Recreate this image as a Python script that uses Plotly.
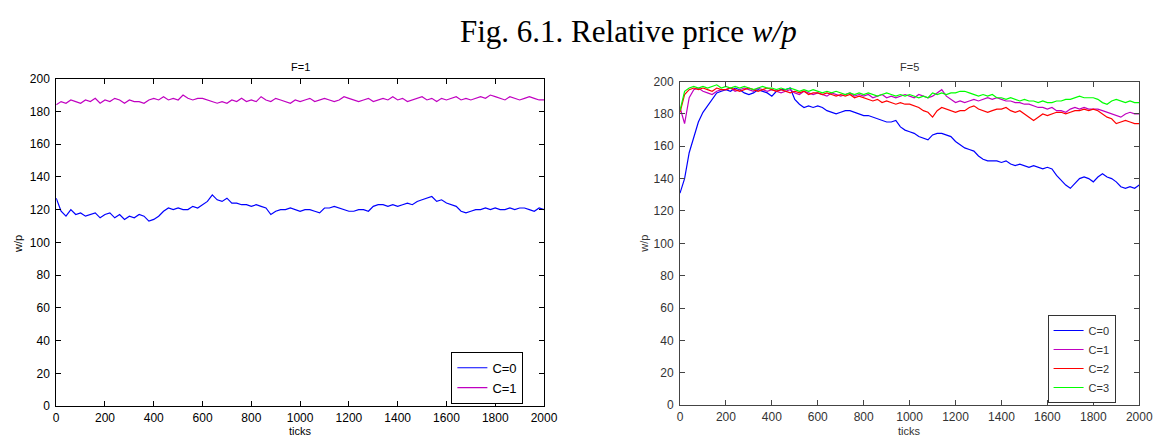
import plotly.graph_objects as go

TICK_STEP = 20
ticks = list(range(0, 2001, TICK_STEP))

# F=1 panel
f1_c0 = [127,119,116,120,117,118,116,117,118,115,
         117,118,115,117,114,116,115,117,116,113,
         114,116,119,121,120,121,120,120,122,121,
         123,125,129,126,125,127,124,124,123,123,
         122,123,122,121,117,119,120,120,121,120,
         119,120,120,119,118,121,121,122,121,120,
         119,119,120,120,119,122,123,123,122,123,
         122,123,124,123,125,126,127,128,125,126,
         124,123,122,119,118,119,120,120,121,120,
         121,120,120,121,120,121,121,120,119,121,
         120]
f1_c1 = [184,186,185,187,186,185,187,186,188,185,
         187,186,188,187,185,187,186,186,185,187,
         188,187,189,187,188,187,190,188,187,188,
         188,187,186,185,186,185,187,186,188,186,
         187,186,189,187,186,188,187,186,185,187,
         186,187,188,186,187,188,187,186,187,189,
         188,187,186,187,188,186,187,188,187,189,
         187,188,186,187,188,189,187,188,186,188,
         187,188,189,187,188,187,188,189,188,190,
         189,188,187,189,188,187,188,189,188,187,
         187]

# F=5 panel
f5_c0 = [131,140,156,165,175,181,185,189,193,194,
         195,194,196,195,193,192,193,195,194,193,
         191,194,195,195,196,189,186,184,185,184,
         185,184,182,181,180,181,182,182,181,180,
         179,179,178,177,176,175,175,176,172,170,
         169,168,166,165,164,167,168,168,167,166,
         163,161,159,158,157,154,152,151,151,151,
         150,151,149,148,149,148,147,148,147,146,
         147,146,142,139,136,134,137,140,141,140,
         138,141,143,141,140,138,135,134,135,134,
         136]
f5_c1 = [184,174,190,195,196,194,193,192,194,195,
         195,196,194,195,196,195,194,196,195,194,
         195,194,193,194,195,193,192,194,193,192,
         193,192,191,193,192,191,192,193,191,192,
         191,192,190,191,192,190,191,190,191,192,
         191,190,192,191,190,191,193,195,191,189,
         187,188,187,188,189,188,189,190,189,190,
         189,188,188,187,187,186,186,185,184,184,
         183,184,182,182,181,183,184,183,184,183,
         183,183,182,181,180,179,178,180,181,180,
         180]
f5_c2 = [181,192,195,196,195,196,195,194,196,195,
         195,196,195,194,195,196,195,194,195,196,
         195,194,195,194,193,194,193,194,192,193,
         193,192,193,192,191,192,191,192,190,191,
         190,189,188,189,187,188,187,186,187,186,
         186,185,184,182,181,178,182,184,183,182,
         181,182,182,184,185,183,182,181,182,183,
         183,184,182,181,182,180,178,176,178,180,
         179,180,181,181,180,181,182,182,183,182,
         183,182,180,178,177,174,175,176,175,174,
         174]
f5_c3 = [182,194,196,197,196,197,196,197,198,196,
         197,196,197,196,197,196,195,196,197,196,
         196,195,196,195,196,195,194,195,194,195,
         194,193,194,193,194,193,192,193,192,193,
         192,193,192,191,192,193,192,191,192,191,
         192,191,190,191,190,193,192,193,192,193,
         193,194,194,193,192,191,192,191,192,190,
         190,189,190,189,188,189,188,188,187,188,
         187,187,188,188,189,189,190,191,190,190,
         190,189,187,186,188,189,188,187,188,187,
         187]

x_tickvals = list(range(0, 2001, 200))
y_tickvals = list(range(0, 201, 20))

W, H = 1168, 445
FONT = "Liberation Sans, Arial, sans-serif"

fig = go.Figure()

def add(x, y, name, color, xa, ya, legend):
    fig.add_trace(go.Scatter(x=x, y=y, mode="lines", name=name,
                             line=dict(color=color, width=1.2),
                             xaxis=xa, yaxis=ya, legend=legend))

add(ticks, f1_c0, "C=0", "#0000ff", "x", "y", "legend")
add(ticks, f1_c1, "C=1", "#c000c0", "x", "y", "legend")
add(ticks, f5_c0, "C=0", "#0000ff", "x2", "y2", "legend2")
add(ticks, f5_c1, "C=1", "#c000c0", "x2", "y2", "legend2")
add(ticks, f5_c2, "C=2", "#ff0000", "x2", "y2", "legend2")
add(ticks, f5_c3, "C=3", "#00ff00", "x2", "y2", "legend2")

L = dict(x0=54, x1=549, y0=74, y1=412)
R = dict(x0=687, x1=1153, y0=77, y1=411)

def axis_common(color, fcolor, standoff, size):
    return dict(showgrid=False, zeroline=False, showline=True, linecolor=color,
                linewidth=1, mirror="ticks", ticks="inside", ticklen=5,
                tickcolor=color, ticklabelstandoff=standoff,
                tickfont=dict(family=FONT, size=size, color=fcolor))

lx = axis_common("#000", "#000", 1, 12)
ly = axis_common("#000", "#000", 3, 12)
rx = axis_common("#444", "#333", 1, 12)
ry = axis_common("#444", "#333", 3, 12)

def ann(text, x, y, size, color, family=FONT, angle=0):
    return dict(text=text, x=x/W, y=1-y/H, xref="paper", yref="paper",
                xanchor="center", yanchor="middle", showarrow=False,
                textangle=angle, borderpad=0,
                font=dict(family=family, size=size, color=color))

fig.update_layout(
    width=W, height=H,
    margin=dict(l=0, r=0, t=0, b=0),
    paper_bgcolor="white", plot_bgcolor="white",
    showlegend=True,
    xaxis=dict(domain=[L["x0"]/W, L["x1"]/W], range=[0, 2000], tickvals=x_tickvals,
               anchor="y", **lx),
    yaxis=dict(domain=[1-L["y1"]/H, 1-L["y0"]/H], range=[0, 200], tickvals=y_tickvals,
               anchor="x", **ly),
    xaxis2=dict(domain=[R["x0"]/W, R["x1"]/W], range=[0, 2000], tickvals=x_tickvals,
                anchor="y2", **rx),
    yaxis2=dict(domain=[1-R["y1"]/H, 1-R["y0"]/H], range=[0, 200], tickvals=y_tickvals,
                anchor="x2", **ry),
    legend=dict(x=455/W, y=1-356/H, xanchor="left", yanchor="top",
                bgcolor="white", bordercolor="#000", borderwidth=1,
                font=dict(family=FONT, size=13, color="#000"), tracegroupgap=0),
    legend2=dict(x=1060/W, y=1-318/H, xanchor="left", yanchor="top",
                 bgcolor="white", bordercolor="#333", borderwidth=1,
                 font=dict(family=FONT, size=11, color="#333"), tracegroupgap=0),
    annotations=[
        ann("Fig. 6.1. Relative price <i>w/p</i>", 635, 25, 31, "#000",
            family="Liberation Serif, Times New Roman, serif"),
        ann("F=1", (L["x0"]+L["x1"])/2, 62, 11, "#000"),
        ann("F=5", (R["x0"]+R["x1"])/2, 62, 11, "#333"),
        ann("ticks", (L["x0"]+L["x1"])/2, 438, 11, "#000"),
        ann("ticks", (R["x0"]+R["x1"])/2, 438, 11, "#333"),
        ann("w/p", 16, 245, 11, "#000", angle=-90),
        ann("w/p", 651, 245, 11, "#333", angle=-90),
    ],
)

fig.write_html("out.html")
